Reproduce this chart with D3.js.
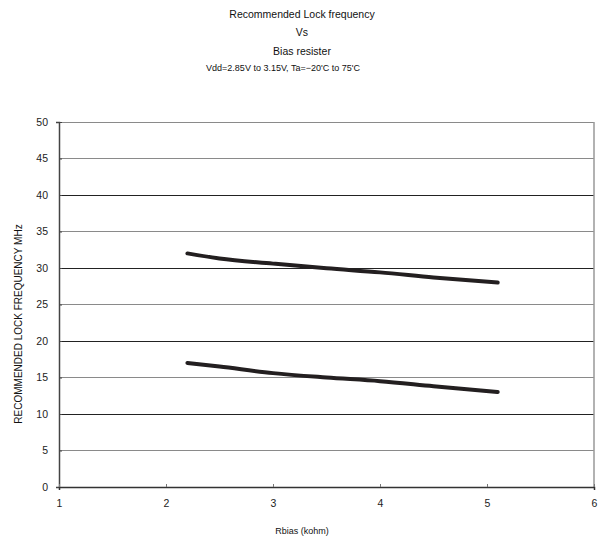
<!DOCTYPE html>
<html><head><meta charset="utf-8">
<script src="https://cdn.jsdelivr.net/npm/d3@7"></script>
<style>body{margin:0;background:#fff}svg{display:block;font-family:"Liberation Sans",Arial,sans-serif}</style>
</head><body><svg id="c" width="603" height="538"></svg>
<script>
const titleLines = ["Recommended Lock frequency", "Vs", "Bias resister"];
const subtitle = "Vdd=2.85V to 3.15V, Ta=\u221220'C to 75'C";
const xLabel = "Rbias (kohm)";
const yLabel = "RECOMMENDED LOCK FREQUENCY MHz";
const xTicks = [1, 2, 3, 4, 5, 6];
const yTicks = [0, 5, 10, 15, 20, 25, 30, 35, 40, 45, 50];
const rbias = [2.2, 2.5, 3, 3.5, 4, 4.5, 5.1];
const upperFreq = [32, 31.3, 30.6, 29.95, 29.4, 28.7, 28];
const lowerFreq = [17, 16.5, 15.6, 15, 14.5, 13.8, 13];

const svg = d3.select("#c");
const L = 59, R = 594, T = 122, B = 487;
const x = d3.scaleLinear().domain([1, 6]).range([L, R]);
const y = d3.scaleLinear().domain([0, 50]).range([B, T]);

// titles
svg.selectAll("text.t").data(titleLines).join("text").attr("class", "t")
  .attr("x", 302).attr("y", (d, i) => 18 + i * 18.3)
  .attr("text-anchor", "middle").attr("font-size", 10.5).attr("fill", "#111").text(d => d);
svg.append("text").attr("x", 283).attr("y", 71).attr("text-anchor", "middle")
  .attr("font-size", 9).attr("fill", "#111").text(subtitle);

// gridlines
svg.append("g").selectAll("line").data(yTicks.filter(d => d > 0)).join("line")
  .attr("x1", L).attr("x2", R).attr("y1", d => y(d)).attr("y2", d => y(d))
  .attr("stroke", d => (d % 10 === 0 && d < 50) ? "#222" : "#8a8a8a").attr("stroke-width", 1)
  .attr("shape-rendering", "crispEdges");

// right border
svg.append("line").attr("x1", R).attr("x2", R).attr("y1", T).attr("y2", B)
  .attr("stroke", "#999").attr("stroke-width", 1.5);

// axes
const yAxis = d3.axisLeft(y).tickValues(yTicks).tickSize(3).tickPadding(8).tickFormat(d3.format("d"));
const gy = svg.append("g").attr("transform", `translate(${L},0)`).call(yAxis);
gy.select(".domain").attr("stroke", "#444").attr("stroke-width", 1.5);
gy.selectAll(".tick line").attr("stroke", "#444").attr("transform", "translate(3,0)");
gy.selectAll(".tick text").attr("font-size", 10.5).attr("font-family", "Liberation Sans, Arial, sans-serif").attr("fill", "#222");

const xAxis = d3.axisBottom(x).tickValues(xTicks).tickSize(3).tickPadding(10).tickFormat(d3.format("d"));
const gx = svg.append("g").attr("transform", `translate(0,${B})`).call(xAxis);
gx.select(".domain").attr("stroke", "#333").attr("stroke-width", 1.5);
gx.selectAll(".tick line").attr("stroke", "#777").attr("transform", "translate(0,-3)");
gx.selectAll(".tick text").attr("font-size", 10.5).attr("font-family", "Liberation Sans, Arial, sans-serif").attr("fill", "#222");

// axis labels
svg.append("text").attr("x", 302).attr("y", 534).attr("text-anchor", "middle")
  .attr("font-size", 9).attr("fill", "#111").text(xLabel);
svg.append("text").attr("transform", "translate(22,324) rotate(-90)").attr("text-anchor", "middle")
  .attr("font-size", 10).attr("fill", "#111").text(yLabel);

// curves
const line = d3.line().x(d => x(d[0])).y(d => y(d[1])).curve(d3.curveMonotoneX);
[upperFreq, lowerFreq].forEach(s => {
  svg.append("path").datum(rbias.map((r, i) => [r, s[i]]))
    .attr("d", line).attr("fill", "none").attr("stroke", "#231f20")
    .attr("stroke-width", 4).attr("stroke-linecap", "round");
});
</script></body></html>
